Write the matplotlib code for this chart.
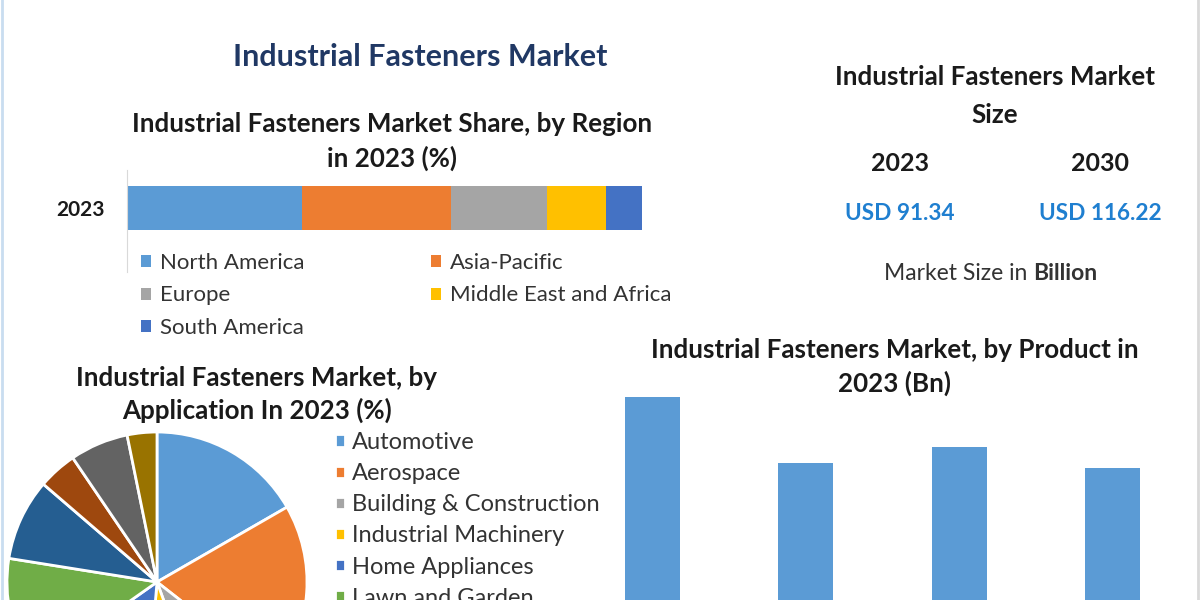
import matplotlib.pyplot as plt

plt.rcParams['font.family'] = ['Lato', 'DejaVu Sans']

# ---- data ----
regions = ['North America', 'Asia-Pacific', 'Europe', 'Middle East and Africa', 'South America']
region_share = [34.0, 29.0, 18.5, 11.5, 7.0]
region_colors = ['#5B9BD5', '#ED7D31', '#A5A5A5', '#FFC000', '#4472C4']

applications = ['Automotive', 'Aerospace', 'Building & Construction', 'Industrial Machinery',
                'Home Appliances', 'Lawn and Garden', 'Motors & Pumps', 'Furniture',
                'Plumbing Products', 'Others']
app_share = [16.7, 18.9, 8.9, 6.9, 13.9, 12.3, 8.8, 4.2, 6.3, 3.2]
app_colors = ['#5B9BD5', '#ED7D31', '#A5A5A5', '#FFC000', '#4472C4', '#70AD47',
              '#255E91', '#9E480E', '#636363', '#997300']

products = ['Externally Threaded', 'Internally Threaded', 'Non-threaded', 'Aerospace Grade']
product_value = [28.6, 23.3, 24.6, 22.9]

size_years = ['2023', '2030']
size_values = ['USD 91.34', 'USD 116.22']

W, H = 1200, 600


def fx(x):
    return x / W


def fy(y):
    return 1 - y / H


def box(x0, y0, x1, y1):
    # pixel box (top-left origin) -> figure rect
    return [x0 / W, 1 - y1 / H, (x1 - x0) / W, (y1 - y0) / H]


fig = plt.figure(figsize=(12, 6), dpi=100)
fig.patch.set_facecolor('white')

# frame lines at the edges
fig.add_artist(plt.Line2D([fx(2), fx(2)], [0, 1], color='#C9DDF0', lw=2))
fig.add_artist(plt.Line2D([fx(1198), fx(1198)], [0, 1], color='#D9D9D9', lw=2))

dark = '#1A1A1A'
grey = '#333333'
hfs = 18.7  # heading size

# titles
fig.text(fx(420), fy(57), 'Industrial Fasteners Market', ha='center', va='center',
         fontsize=22, fontweight='bold', color='#203864')
fig.text(fx(392), fy(124), 'Industrial Fasteners Market Share, by Region', ha='center',
         va='center', fontsize=hfs, fontweight='bold', color=dark)
fig.text(fx(392), fy(158), 'in 2023 (%)', ha='center', va='center',
         fontsize=hfs, fontweight='bold', color=dark)

# ---- region stacked bar ----
ax1 = fig.add_axes(box(127, 170, 642, 272))
left = 0
bars = []
for name, val, col in zip(regions, region_share, region_colors):
    b = ax1.barh([0], [val], left=left, height=0.44, color=col, label=name)
    bars.append(b)
    left += val
ax1.set_xlim(0, sum(region_share))
ax1.set_ylim(-0.64, 0.38)
ax1.set_yticks([0])
ax1.set_yticklabels(['2023'], fontsize=15, fontweight='bold', color=dark)
ax1.tick_params(axis='y', length=0, pad=16)
ax1.set_xticks([])
for s in ['top', 'right', 'bottom']:
    ax1.spines[s].set_visible(False)
ax1.spines['left'].set_color('#D9D9D9')
order = [0, 2, 4, 1, 3]
ax1.legend([bars[i] for i in order], [regions[i] for i in order], ncol=2,
           loc='upper left', bbox_to_anchor=(fx(141), fy(253)), bbox_transform=fig.transFigure,
           frameon=False, fontsize=16, borderpad=0, borderaxespad=0,
           handlelength=0.45, handleheight=0.45, handletextpad=0.4,
           columnspacing=5.7, labelspacing=0.56, labelcolor=grey)

# ---- market size panel ----
fig.text(fx(995), fy(77), 'Industrial Fasteners Market', ha='center', va='center',
         fontsize=hfs, fontweight='bold', color=dark)
fig.text(fx(995), fy(115), 'Size', ha='center', va='center',
         fontsize=hfs, fontweight='bold', color=dark)
for xc, yr, val in zip([900, 1100], size_years, size_values):
    fig.text(fx(xc), fy(163), yr, ha='center', va='center', fontsize=18,
             fontweight='bold', color=dark)
    fig.text(fx(xc), fy(214), val, ha='center', va='center', fontsize=16.3,
             fontweight='bold', color='#1F7FD0')
t = fig.text(fx(884), fy(273), 'Market Size in ', ha='left', va='center',
             fontsize=16.5, color=grey)
r = fig.canvas.get_renderer()
bb = t.get_window_extent(renderer=r)
fig.text(bb.x1 / W, fy(273), 'Billion', ha='left', va='center',
         fontsize=16.5, fontweight='bold', color=grey)

# ---- application pie ----
fig.text(fx(257), fy(378), 'Industrial Fasteners Market, by', ha='center', va='center',
         fontsize=hfs, fontweight='bold', color=dark)
fig.text(fx(257), fy(410), 'Application In 2023 (%)', ha='center', va='center',
         fontsize=hfs, fontweight='bold', color=dark)
ax2 = fig.add_axes(box(7, 432, 307, 732))
wedges, _ = ax2.pie(app_share, colors=app_colors, startangle=90, counterclock=False,
                    radius=1, wedgeprops=dict(edgecolor='white', linewidth=2))
ax2.set_xlim(-1, 1)
ax2.set_ylim(-1, 1)
ax2.legend(wedges, applications, loc='upper left', bbox_to_anchor=(fx(335), fy(432)),
           bbox_transform=fig.transFigure, frameon=False, fontsize=17,
           borderpad=0, borderaxespad=0,
           handlelength=0.43, handleheight=0.43, handletextpad=0.3, labelspacing=0.43,
           labelcolor=grey)

# ---- product bar chart ----
fig.text(fx(895), fy(350), 'Industrial Fasteners Market, by Product in', ha='center',
         va='center', fontsize=hfs, fontweight='bold', color=dark)
fig.text(fx(895), fy(383), '2023 (Bn)', ha='center', va='center',
         fontsize=hfs, fontweight='bold', color=dark)
ax3 = fig.add_axes(box(576, 380, 1189, 750))
ax3.bar(range(len(products)), product_value, width=0.36, color='#5B9BD5')
ax3.set_xlim(-0.5, len(products) - 0.5)
ax3.set_ylim(0, 30)
ax3.axis('off')

fig.savefig('out.png', dpi=100)
